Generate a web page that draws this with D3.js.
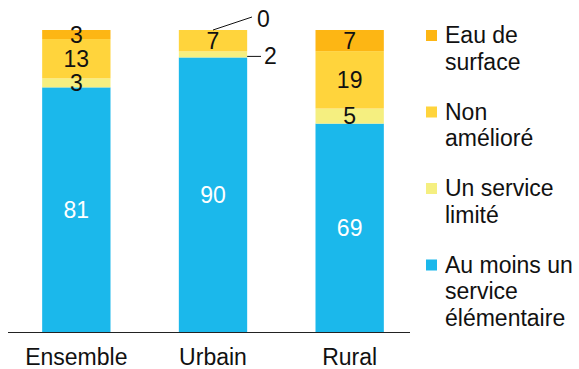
<!DOCTYPE html>
<html><head><meta charset="utf-8">
<script src="https://cdn.jsdelivr.net/npm/d3@7"></script>
<style>body{margin:0;background:#fff}svg{display:block;font-family:"Liberation Sans",Arial,sans-serif}</style>
</head><body><svg id="c" width="579" height="369"></svg>
<script>
const categories = ["Ensemble", "Urbain", "Rural"];
const seriesNames = ["Au moins un service élémentaire", "Un service limité", "Non amélioré", "Eau de surface"];
const basic = [81, 90, 69];
const limited = [3, 2, 5];
const unimproved = [13, 7, 19];
const surface = [3, 0, 7];
const legendLines = [["Eau de", "surface"], ["Non", "amélioré"], ["Un service", "limité"], ["Au moins un", "service", "élémentaire"]];

const colors = ["#1BB8EB", "#F5EF80", "#FFD43C", "#FDB614"];
const keys = ["basic", "limited", "unimproved", "surface"];
const table = categories.map((c, i) => ({cat: c, basic: basic[i], limited: limited[i], unimproved: unimproved[i], surface: surface[i]}));
const stacked = d3.stack().keys(keys).offset(d3.stackOffsetExpand)(table);
const FS = 23;

const svg = d3.select("#c");
const x = d3.scaleBand().domain(categories).range([8, 418]).paddingInner(0.5).paddingOuter(0.25);
const y = d3.scaleLinear().domain([0, 1]).range([332, 30]);

const g = svg.append("g");
stacked.forEach((s, si) => {
  g.selectAll(null).data(s).enter().append("rect")
    .attr("x", d => x(d.data.cat)).attr("width", x.bandwidth())
    .attr("y", d => y(d[1])).attr("height", d => Math.max(0, y(d[0]) - y(d[1])))
    .attr("fill", colors[si]);
});

// value labels
stacked.forEach((s, si) => {
  s.forEach((d, i) => {
    const v = d.data[keys[si]];
    const h = y(d[0]) - y(d[1]);
    const cx = x(d.data.cat) + x.bandwidth() / 2;
    if (h >= 8) {
      svg.append("text").attr("x", cx).attr("y", (y(d[0]) + y(d[1])) / 2 + 8)
        .attr("text-anchor", "middle").attr("font-size", FS)
        .attr("fill", si === 0 ? "#fff" : "#111").text(v);
    } else {
      const right = x(d.data.cat) + x.bandwidth();
      const my = (y(d[0]) + y(d[1])) / 2;
      if (si === 3) {
        svg.append("line").attr("x1", cx).attr("y1", y(d[1])).attr("x2", 252).attr("y2", 17)
          .attr("stroke", "#111").attr("stroke-width", 1);
        svg.append("text").attr("x", 257).attr("y", 27).attr("font-size", FS).attr("fill", "#111").text(v);
      } else {
        svg.append("line").attr("x1", right).attr("y1", my + 2).attr("x2", 261).attr("y2", my + 2)
          .attr("stroke", "#111").attr("stroke-width", 1);
        svg.append("text").attr("x", 264).attr("y", my + 10).attr("font-size", FS).attr("fill", "#111").text(v);
      }
    }
  });
});

svg.append("line").attr("x1", 8).attr("x2", 410).attr("y1", 332.5).attr("y2", 332.5).attr("stroke", "#222").attr("stroke-width", 1);
svg.selectAll(".cl").data(categories).enter().append("text")
  .attr("x", d => x(d) + x.bandwidth() / 2).attr("y", 365)
  .attr("text-anchor", "middle").attr("font-size", FS).attr("fill", "#111").text(d => d);

const legendColors = [colors[3], colors[2], colors[1], colors[0]];
const lineH = 26.5;
let by = 43;
legendLines.forEach((lines, i) => {
  svg.append("rect").attr("x", 426).attr("y", by - 13).attr("width", 11).attr("height", 11).attr("fill", legendColors[i]);
  const t = svg.append("text").attr("x", 445).attr("y", by).attr("font-size", FS).attr("fill", "#111");
  lines.forEach((l, j) => t.append("tspan").attr("x", 445).attr("y", by + j * lineH).text(l));
  by += lines.length * lineH + 23.5;
});
</script></body></html>
